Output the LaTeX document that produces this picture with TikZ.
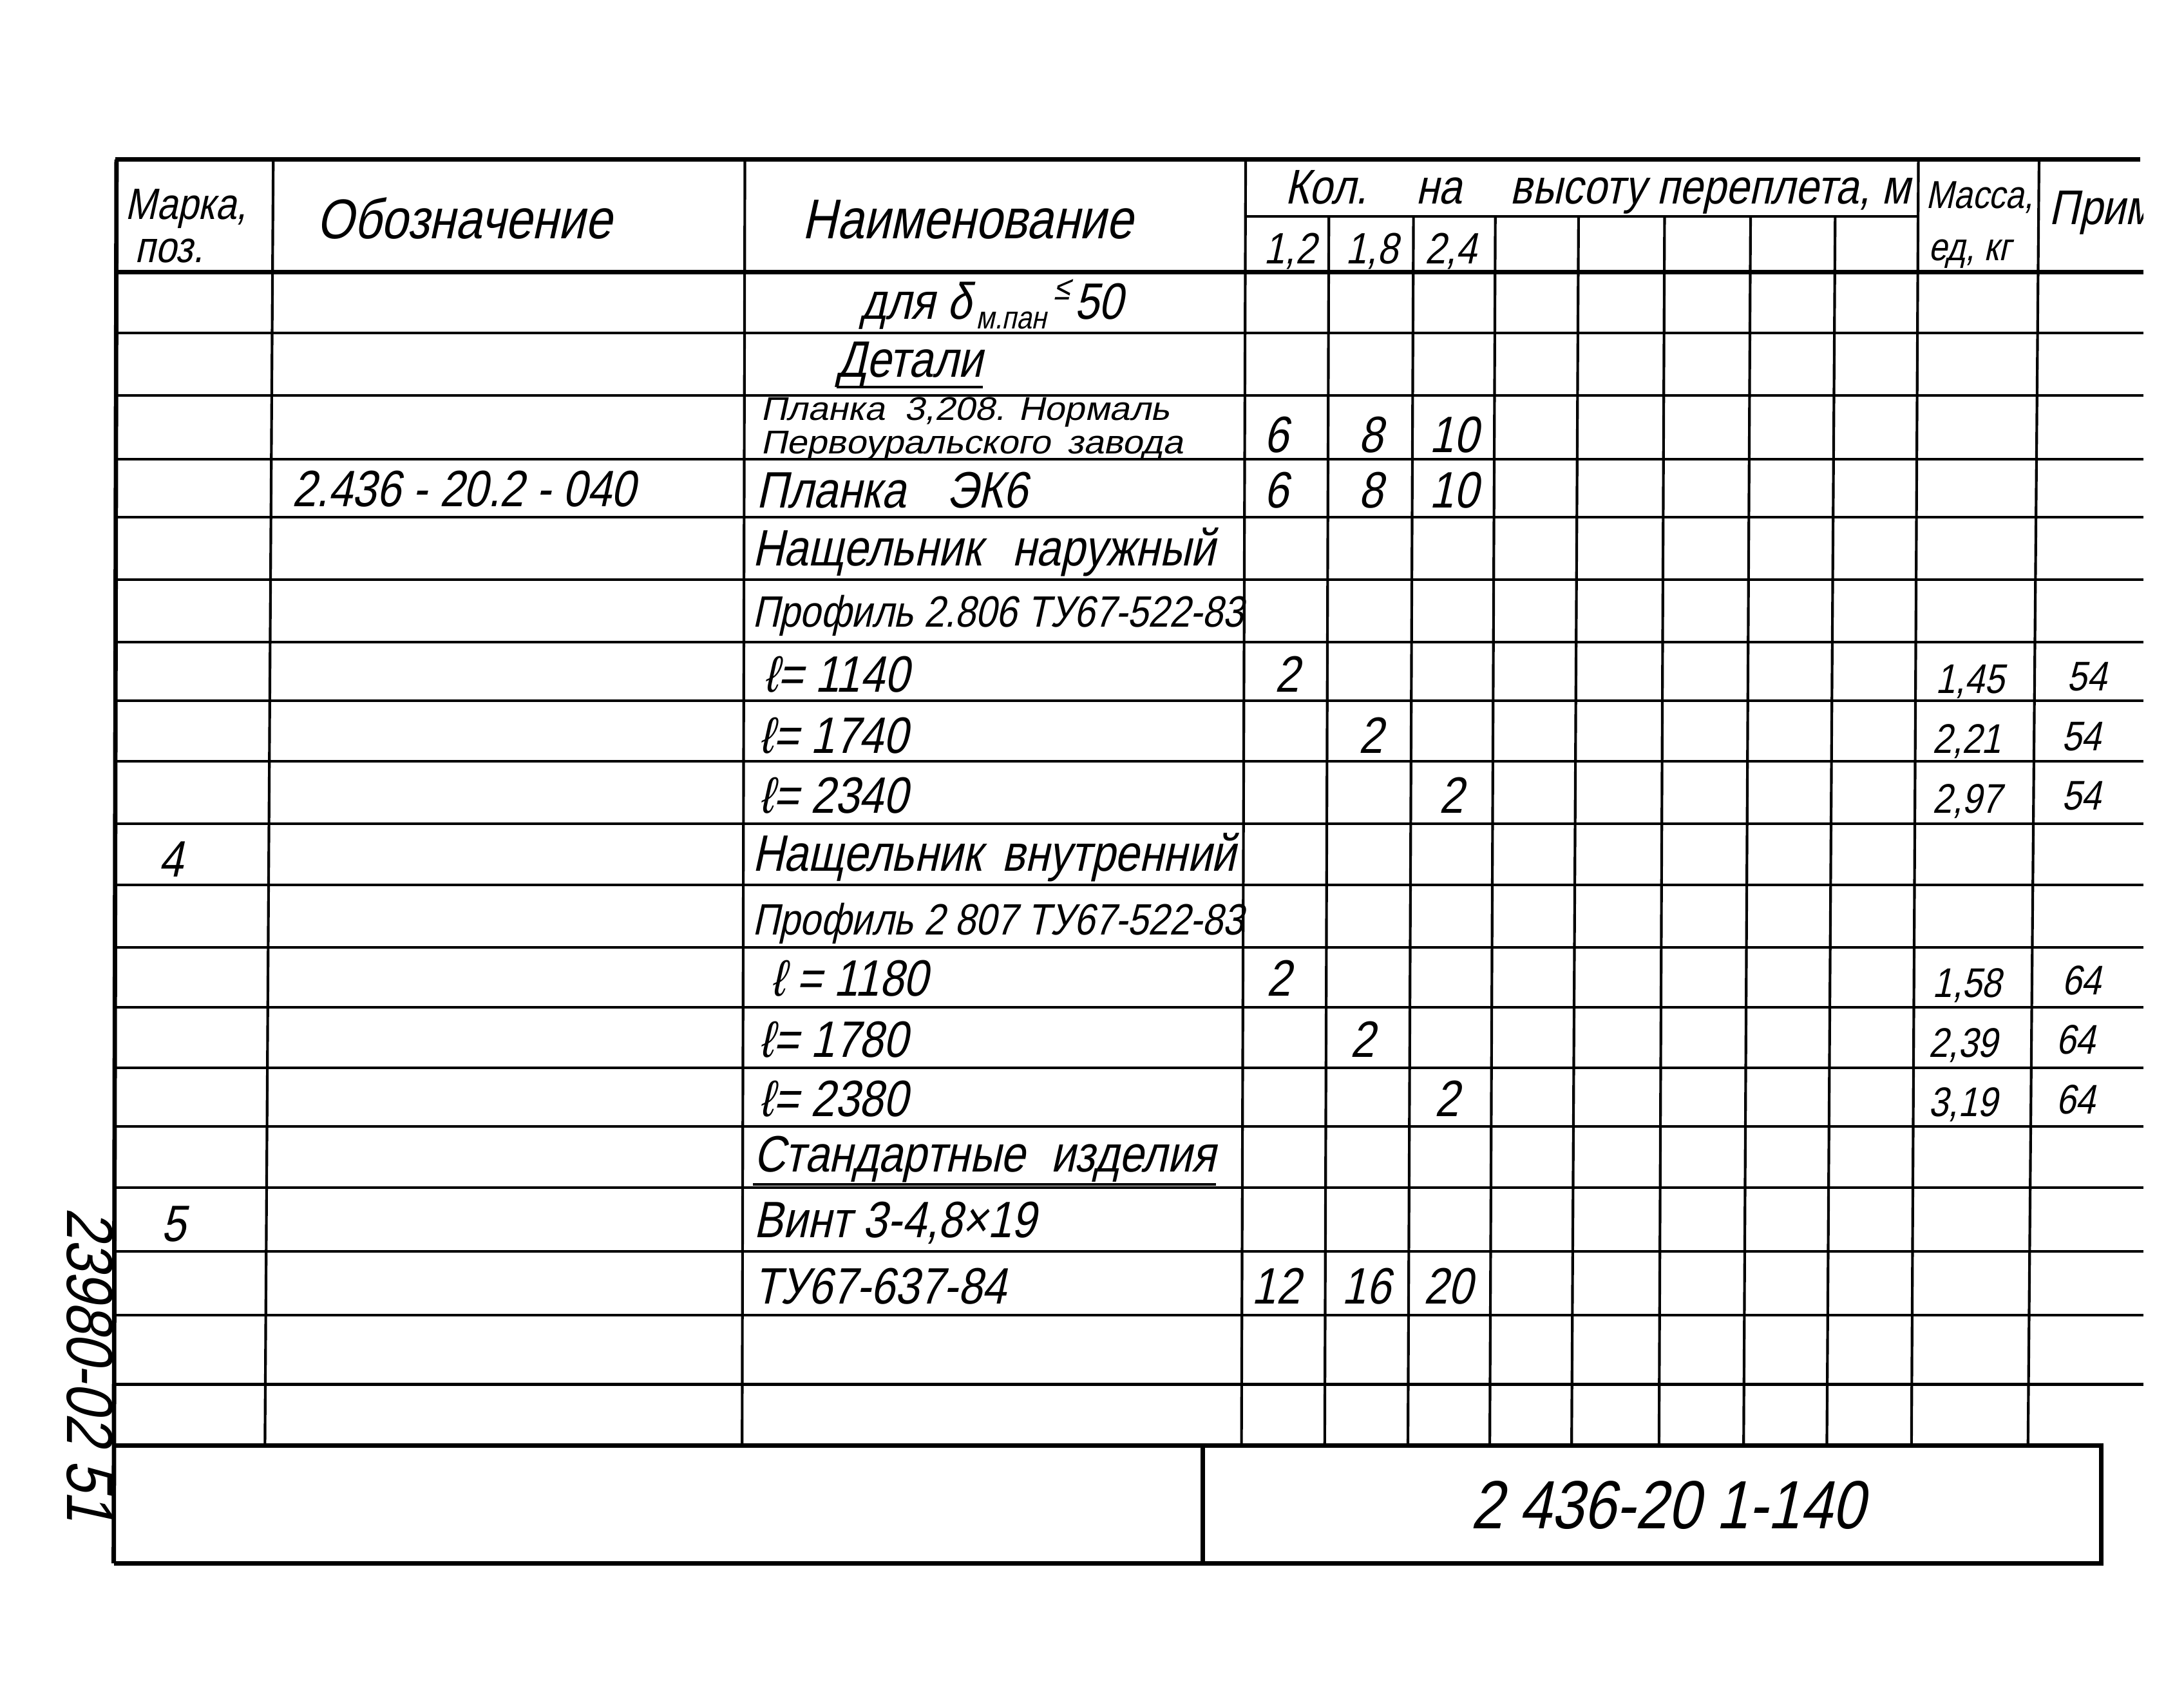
\documentclass[tikz,border=0pt]{standalone}
\usepackage{fontspec}
\setmainfont{Liberation Sans}
\newfontfamily\drawfont{Liberation Sans}[FakeSlant=0.22,FakeStretch=0.85]
\newfontfamily\widefont{Liberation Sans}[FakeSlant=0.22,FakeStretch=1.1]
\newcommand{\hwsize}[1]{\drawfont\fontsize{#1}{#1}\selectfont}
\newcommand{\wdsize}[1]{\widefont\fontsize{#1}{#1}\selectfont}
\tikzset{
  gridln/.style={line width=1.1pt},
  frameln/.style={line width=1.8pt},
  txt/.style={inner sep=0pt, anchor=base west, font=\hwsize{21}},
  num/.style={inner sep=0pt, anchor=base, font=\hwsize{21}},
  mass/.style={inner sep=0pt, anchor=base west, font=\hwsize{17}},
}
\newcommand{\tx}{\node[txt]}
\newcommand{\nm}{\node[num]}
\newcommand{\ms}{\node[mass]}

\begin{document}
\begin{tikzpicture}[x=0.02cm, y=-0.02cm]
\useasboundingbox (0,0) rectangle (1568,1231);

% table grid
\draw[frameln] (83,115) -- (1543,115);
\draw[frameln] (84,115) -- (82,1127);
\draw[gridln] (898,156) -- (1383,156);
\draw[frameln] (83,196) -- (1545,196);
\foreach \y in {240,285,331,373,418,463,505,549,594,638,683,726,770,812,856,902,948,998}
  \draw[gridln] (83,\y) -- (1545,\y);
\foreach \a/\b in {197/191,537/535,898/895,1383/1378,1470/1462}
  \draw[gridln] (\a,115) -- (\b,1042);
\foreach \a/\b in {958/955,1019/1015,1078/1074,1138/1133,1200/1196,1262/1257,1323/1317}
  \draw[gridln] (\a,156) -- (\b,1042);

% title block
\draw[frameln] (82,1042) -- (1515,1042) -- (1515,1127) -- (82,1127);
\draw[frameln] (867,1042) -- (867,1127);

% header
\tx[font=\hwsize{18}] (hmark) at (90,158) {Марка,};
\tx[font=\hwsize{18}] (hpos) at (97,189) {поз.};
\tx[font=\hwsize{23}] (hdes) at (228,172) {Обозначение};
\tx[font=\hwsize{23}] (hname) at (578,172) {Наименование};
\tx[font=\hwsize{20}] (hqty) at (926,147) {Кол.\hspace{1em}на\hspace{1em}высоту переплета, м};
\nm[font=\hwsize{18}] (h12) at (930,190) {1,2};
\nm[font=\hwsize{18}] (h18) at (989,190) {1,8};
\nm[font=\hwsize{18}] (h24) at (1046,190) {2,4};
\tx[font=\hwsize{16}] (hmass) at (1388,150) {Масса,};
\tx[font=\hwsize{16}] (hunit) at (1390,188) {ед, кг};
\begin{scope}
  \clip (0,0) rectangle (1545,1231);
  \tx[font=\hwsize{20}] (hnote) at (1477,162) {Прим.};
\end{scope}

% rows
\tx (r1) at (620,230) {для δ\hspace{2pt}{\hwsize{13}\raisebox{-4pt}{м.пан}}\hspace{3pt}{\hwsize{14}\raisebox{8pt}{≤}}\hspace{2pt}50};
\tx (r2) at (603,272) {Детали};
\draw[gridln] ([yshift=-4pt]r2.base west) -- ([yshift=-4pt]r2.base east);
\tx[font=\wdsize{13.5}] (r3a) at (548,303) {Планка\hspace{0.6em}3,208. Нормаль};
\tx[font=\wdsize{13.5}] (r3b) at (548,327) {Первоуральского\hspace{0.5em}завода};
\nm (q3a) at (920,326) {6};
\nm (q3b) at (988,326) {8};
\nm (q3c) at (1048,326) {10};
\tx (d4) at (210,365) {2.436 - 20.2 - 040};
\tx (r4) at (545,366) {Планка\hspace{0.8em}ЭК6};
\nm (q4a) at (920,366) {6};
\nm (q4b) at (988,366) {8};
\nm (q4c) at (1048,366) {10};
\tx (r5) at (542,408) {Нащельник\hspace{0.6em}наружный};
\tx[font=\hwsize{18}] (r6) at (542,452) {Профиль 2.806 ТУ67-522-83};
\tx (r7) at (550,499) {ℓ= 1140};
\nm (q7) at (928,499) {2};
\ms (m7) at (1395,500) {1,45};
\ms (p7) at (1490,498) {54};
\tx (r8) at (547,543) {ℓ= 1740};
\nm (q8) at (988,543) {2};
\ms (m8) at (1393,543) {2,21};
\ms (p8) at (1486,541) {54};
\tx (r9) at (547,586) {ℓ= 2340};
\nm (q9) at (1046,586) {2};
\ms (m9) at (1393,586) {2,97};
\ms (p9) at (1486,584) {54};
\nm (k10) at (123,632) {4};
\tx (r10) at (542,628) {Нащельник\hspace{0.4em}внутренний};
\tx[font=\hwsize{18}] (r11) at (542,674) {Профиль 2 807 ТУ67-522-83};
\tx (r12) at (555,718) {ℓ = 1180};
\nm (q12) at (922,718) {2};
\ms (m12) at (1393,719) {1,58};
\ms (p12) at (1486,717) {64};
\tx (r13) at (547,762) {ℓ= 1780};
\nm (q13) at (982,762) {2};
\ms (m13) at (1390,762) {2,39};
\ms (p13) at (1482,760) {64};
\tx (r14) at (547,805) {ℓ= 2380};
\nm (q14) at (1043,805) {2};
\ms (m14) at (1390,805) {3,19};
\ms (p14) at (1482,803) {64};
\tx (r15) at (543,845) {Стандартные\hspace{0.5em}изделия};
\draw[gridln] ([yshift=-5pt]r15.base west) -- ([yshift=-5pt]r15.base east);
\nm (k16) at (125,895) {5};
\tx (r16) at (543,892) {Винт 3-4,8×19};
\tx (r17) at (543,940) {ТУ67-637-84};
\nm (q17a) at (920,940) {12};
\nm (q17b) at (985,940) {16};
\nm (q17c) at (1044,940) {20};

% title and margin stamp
\tx[font=\hwsize{28}] (code) at (1060,1102) {2 436-20 1-140};
\node[inner sep=0pt, rotate=-90, font=\hwsize{27}] (stamp) at (65,984) {23980-02 51};
\end{tikzpicture}
\end{document}
